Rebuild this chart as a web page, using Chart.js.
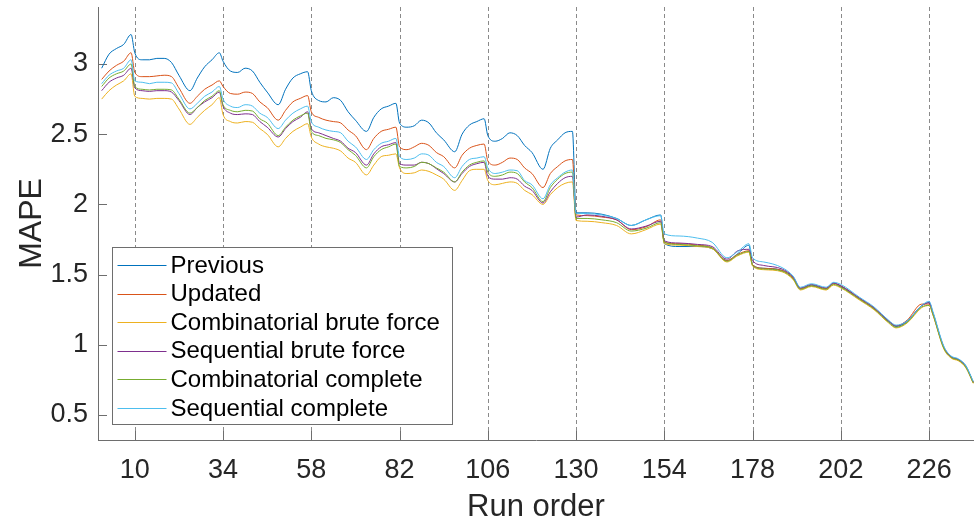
<!DOCTYPE html>
<html lang="en">
<head>
  <meta charset="UTF-8" />
  <title>MAPE by run order</title>
  <script src="https://cdn.jsdelivr.net/npm/chart.js"></script>
  <style>
    html, body { margin: 0; padding: 0; background: #fff; }
    #wrap { width: 974px; height: 524px; }
  </style>
</head>
<body>
  <div id="wrap"><canvas id="mapeChart" width="974" height="524"></canvas></div>
  <script>
    // run positions (x), shared by all six series
    const runOrder = [1, 3, 5, 7, 9, 10, 12, 14, 16, 18, 20, 22, 25, 27, 29, 31, 33,
      34, 36, 38, 40, 42, 44, 46, 49, 51, 53, 55, 57, 58, 60, 62, 64, 66, 68, 70, 73, 75, 77, 79, 81,
      82, 84, 86, 88, 90, 92, 94, 97, 99, 101, 103, 105, 106, 108, 110, 112, 114, 116, 118,
      121, 123, 125, 127, 129, 130,
      133, 137, 141, 145, 149, 153, 154, 158, 163, 167, 171, 174, 177,
      178, 181, 186, 189, 191, 194, 198, 200, 202, 207, 211, 215, 217, 220, 224, 226, 227,
      230, 232, 234, 236, 238];

    const previous = [2.97, 3.07, 3.11, 3.14, 3.21, 3.08, 3.03, 3.03, 3.04, 3.04, 3.01, 2.92, 2.81, 2.90, 2.98, 3.03, 3.08,
      3.02, 2.95, 2.94, 2.97, 2.95, 2.87, 2.80, 2.71, 2.82, 2.90, 2.93, 2.945, 2.81, 2.74, 2.73, 2.76, 2.74, 2.66, 2.60, 2.52, 2.62, 2.68, 2.70, 2.72,
      2.58, 2.55, 2.56, 2.60, 2.58, 2.51, 2.46, 2.375, 2.50, 2.565, 2.59, 2.61, 2.49, 2.45, 2.47, 2.51, 2.49, 2.42, 2.37,
      2.25, 2.40, 2.46, 2.51, 2.52, 1.94,
      1.94, 1.93, 1.90, 1.85, 1.89, 1.925, 1.72, 1.70, 1.70, 1.685, 1.60, 1.65, 1.71,
      1.57, 1.545, 1.53, 1.48, 1.40, 1.425, 1.40, 1.44, 1.415, 1.33, 1.26, 1.165, 1.13, 1.165, 1.28, 1.30, 1.23,
      0.98, 0.915, 0.895, 0.85, 0.73];
    const updated = [2.89, 2.95, 2.99, 3.02, 3.08, 2.94, 2.91, 2.91, 2.915, 2.92, 2.91, 2.83, 2.72, 2.77, 2.82, 2.85, 2.88,
      2.84, 2.79, 2.785, 2.80, 2.79, 2.73, 2.69, 2.60, 2.67, 2.73, 2.755, 2.775, 2.66, 2.62, 2.60, 2.59, 2.58, 2.53, 2.49, 2.39, 2.47, 2.52, 2.535, 2.55,
      2.41, 2.39, 2.41, 2.435, 2.42, 2.37, 2.34, 2.26, 2.35, 2.40, 2.42, 2.43, 2.31, 2.28, 2.30, 2.33, 2.32, 2.26, 2.22,
      2.12, 2.22, 2.27, 2.31, 2.32, 1.925,
      1.92, 1.91, 1.89, 1.82, 1.84, 1.89, 1.73, 1.72, 1.71, 1.69, 1.60, 1.645, 1.67,
      1.57, 1.545, 1.53, 1.475, 1.40, 1.42, 1.40, 1.435, 1.42, 1.33, 1.26, 1.17, 1.135, 1.175, 1.29, 1.29, 1.22,
      0.98, 0.91, 0.89, 0.845, 0.73];
    const combBrute = [2.75, 2.81, 2.85, 2.88, 2.93, 2.77, 2.755, 2.75, 2.755, 2.755, 2.75, 2.68, 2.57, 2.62, 2.67, 2.71, 2.76,
      2.64, 2.59, 2.58, 2.59, 2.585, 2.54, 2.50, 2.41, 2.47, 2.52, 2.55, 2.575, 2.48, 2.43, 2.41, 2.40, 2.38, 2.33, 2.30, 2.21, 2.28, 2.34, 2.35, 2.36,
      2.26, 2.22, 2.225, 2.245, 2.235, 2.21, 2.18, 2.10, 2.17, 2.24, 2.25, 2.25, 2.17, 2.14, 2.15, 2.16, 2.15, 2.10, 2.07,
      2.00, 2.07, 2.12, 2.15, 2.16, 1.885,
      1.88, 1.87, 1.85, 1.79, 1.82, 1.86, 1.72, 1.71, 1.70, 1.685, 1.59, 1.635, 1.66,
      1.56, 1.535, 1.52, 1.465, 1.39, 1.415, 1.39, 1.425, 1.405, 1.32, 1.25, 1.155, 1.12, 1.155, 1.265, 1.28, 1.215,
      0.97, 0.905, 0.885, 0.835, 0.725];
    const seqBrute = [2.81, 2.87, 2.90, 2.92, 2.97, 2.83, 2.81, 2.805, 2.81, 2.81, 2.80, 2.74, 2.64, 2.69, 2.73, 2.76, 2.80,
      2.70, 2.65, 2.64, 2.645, 2.64, 2.59, 2.55, 2.48, 2.54, 2.59, 2.62, 2.66, 2.54, 2.51, 2.49, 2.47, 2.45, 2.40, 2.37, 2.28, 2.36, 2.41, 2.425, 2.44,
      2.29, 2.28, 2.28, 2.30, 2.29, 2.255, 2.22, 2.16, 2.22, 2.27, 2.29, 2.30, 2.20, 2.18, 2.18, 2.19, 2.18, 2.13, 2.10,
      2.01, 2.09, 2.15, 2.19, 2.20, 1.91,
      1.925, 1.915, 1.89, 1.825, 1.845, 1.88, 1.74, 1.725, 1.715, 1.70, 1.61, 1.67, 1.68,
      1.60, 1.565, 1.54, 1.485, 1.405, 1.43, 1.405, 1.44, 1.42, 1.335, 1.265, 1.17, 1.135, 1.17, 1.28, 1.30, 1.23,
      0.985, 0.915, 0.895, 0.845, 0.735];
    const combComplete = [2.84, 2.90, 2.93, 2.95, 3.00, 2.84, 2.82, 2.815, 2.82, 2.82, 2.815, 2.75, 2.65, 2.69, 2.74, 2.77, 2.81,
      2.71, 2.67, 2.66, 2.67, 2.665, 2.61, 2.58, 2.49, 2.55, 2.60, 2.63, 2.65, 2.52, 2.49, 2.47, 2.46, 2.44, 2.39, 2.35, 2.26, 2.34, 2.39, 2.41, 2.43,
      2.27, 2.26, 2.27, 2.30, 2.29, 2.26, 2.23, 2.16, 2.23, 2.28, 2.30, 2.31, 2.23, 2.20, 2.21, 2.23, 2.22, 2.16, 2.12,
      2.02, 2.12, 2.18, 2.22, 2.23, 1.90,
      1.90, 1.89, 1.87, 1.81, 1.83, 1.87, 1.73, 1.715, 1.705, 1.69, 1.595, 1.64, 1.665,
      1.565, 1.54, 1.525, 1.47, 1.395, 1.42, 1.395, 1.43, 1.41, 1.325, 1.255, 1.16, 1.125, 1.16, 1.27, 1.28, 1.22,
      0.975, 0.91, 0.89, 0.84, 0.73];
    const seqComplete = [2.86, 2.92, 2.95, 2.97, 3.03, 2.88, 2.87, 2.86, 2.87, 2.87, 2.865, 2.79, 2.68, 2.72, 2.77, 2.80, 2.84,
      2.75, 2.70, 2.69, 2.71, 2.70, 2.65, 2.62, 2.54, 2.60, 2.65, 2.68, 2.70, 2.59, 2.55, 2.53, 2.52, 2.51, 2.45, 2.41, 2.32, 2.39, 2.435, 2.45, 2.47,
      2.34, 2.32, 2.33, 2.36, 2.35, 2.30, 2.27, 2.19, 2.27, 2.32, 2.33, 2.34, 2.26, 2.22, 2.23, 2.245, 2.24, 2.17, 2.14,
      2.04, 2.14, 2.19, 2.23, 2.245, 1.935,
      1.935, 1.925, 1.90, 1.85, 1.89, 1.92, 1.79, 1.775, 1.76, 1.73, 1.62, 1.665, 1.72,
      1.62, 1.59, 1.55, 1.49, 1.41, 1.435, 1.41, 1.445, 1.43, 1.34, 1.27, 1.175, 1.14, 1.17, 1.28, 1.31, 1.24,
      0.99, 0.92, 0.90, 0.85, 0.74];

    const seriesNames = ['Previous', 'Updated', 'Combinatorial brute force', 'Sequential brute force',
      'Combinatorial complete', 'Sequential complete'];
    const xTicks = [10, 34, 58, 82, 106, 130, 154, 178, 202, 226];
    const yTicks = [0.5, 1, 1.5, 2, 2.5, 3];

    // MATLAB default line colours, same order as seriesNames
    const seriesColors = ['#0072BD', '#D95319', '#EDB120', '#7E2F8E', '#77AC30', '#4DBEEE'];
    const series = [previous, updated, combBrute, seqBrute, combComplete, seqComplete];
    const FONT = '"Liberation Sans", Arial, Helvetica, sans-serif';
    const AXIS = '#6e6e6e';

    // dashed run markers, inward tick marks and the boxed legend inside the axes
    const axesExtras = {
      id: 'axesExtras',
      beforeDatasetsDraw(chart) {
        const { ctx, chartArea: a, scales: { x, y } } = chart;
        ctx.save();
        ctx.lineWidth = 1;
        ctx.strokeStyle = '#8a8a8a';
        ctx.setLineDash([4, 3]);
        xTicks.forEach(v => {
          const px = Math.round(x.getPixelForValue(v)) + 0.5;
          ctx.beginPath(); ctx.moveTo(px, a.top); ctx.lineTo(px, a.bottom); ctx.stroke();
        });
        ctx.setLineDash([]);
        ctx.strokeStyle = AXIS;
        xTicks.forEach(v => {
          const px = Math.round(x.getPixelForValue(v)) + 0.5;
          ctx.beginPath(); ctx.moveTo(px, a.bottom); ctx.lineTo(px, a.bottom - 9); ctx.stroke();
        });
        yTicks.forEach(v => {
          const py = Math.round(y.getPixelForValue(v)) + 0.5;
          ctx.beginPath(); ctx.moveTo(a.left, py); ctx.lineTo(a.left + 9, py); ctx.stroke();
        });
        ctx.restore();
      },
      afterDatasetsDraw(chart) {
        const { ctx, chartArea: a } = chart;
        const bx = Math.round(a.left + 14) + 0.5, by = Math.round(a.bottom - 193) + 0.5;
        const bw = 340, bh = 177, rowH = 28.6;
        ctx.save();
        ctx.fillStyle = '#fff';
        ctx.fillRect(bx, by, bw, bh);
        ctx.strokeStyle = AXIS; ctx.lineWidth = 1;
        ctx.strokeRect(bx, by, bw, bh);
        ctx.font = '24px ' + FONT;
        ctx.textBaseline = 'middle';
        ctx.fillStyle = '#000';
        chart.data.datasets.forEach((ds, i) => {
          const cy = by + 17.5 + i * rowH;
          ctx.strokeStyle = ds.borderColor;
          ctx.beginPath(); ctx.moveTo(bx + 5, Math.round(cy) + 0.5); ctx.lineTo(bx + 54, Math.round(cy) + 0.5); ctx.stroke();
          ctx.fillText(ds.label, bx + 58, cy + 1);
        });
        ctx.restore();
      }
    };

    new Chart(document.getElementById('mapeChart'), {
      type: 'line',
      data: {
        datasets: series.map((vals, i) => ({
          label: seriesNames[i],
          data: runOrder.map((r, k) => ({ x: r, y: vals[k] })),
          borderColor: seriesColors[i],
          borderWidth: 1,
          pointRadius: 0,
          fill: false,
          cubicInterpolationMode: 'monotone',
          order: series.length - 1 - i   // later series on top, as in the original
        }))
      },
      options: {
        responsive: false,
        animation: false,
        devicePixelRatio: 1,
        layout: { padding: { top: 7, right: 0, bottom: 0, left: 0 } },
        plugins: { legend: { display: false }, tooltip: { enabled: false } },
        scales: {
          x: {
            type: 'linear', min: 0, max: 238.2,
            grid: { display: false, drawTicks: false },
            border: { display: true, color: AXIS, width: 1 },
            afterBuildTicks: ax => { ax.ticks = xTicks.map(v => ({ value: v })); },
            afterFit: ax => { ax.height = 84; ax.paddingLeft = 0; ax.paddingRight = 0; },
            ticks: {
              autoSkip: false, maxRotation: 0, padding: 14, color: '#262626',
              font: { family: FONT, size: 27 },
              callback: v => String(v)
            },
            title: { display: true, text: 'Run order', color: '#262626', padding: { top: 0, bottom: -2 },
              font: { family: FONT, size: 31 } }
          },
          y: {
            type: 'linear', min: 0.322, max: 3.406,
            grid: { display: false, drawTicks: false },
            border: { display: true, color: AXIS, width: 1 },
            afterBuildTicks: ax => { ax.ticks = yTicks.map(v => ({ value: v })); },
            afterFit: ax => { ax.width = 98; ax.paddingTop = 0; ax.paddingBottom = 0; },
            ticks: {
              padding: 10, color: '#262626',
              font: { family: FONT, size: 27 },
              callback: v => String(v)
            },
            title: { display: true, text: 'MAPE', color: '#262626', padding: { top: 13, bottom: 0 },
              font: { family: FONT, size: 32 } }
          }
        }
      },
      plugins: [axesExtras]
    });
  </script>
</body>
</html>
